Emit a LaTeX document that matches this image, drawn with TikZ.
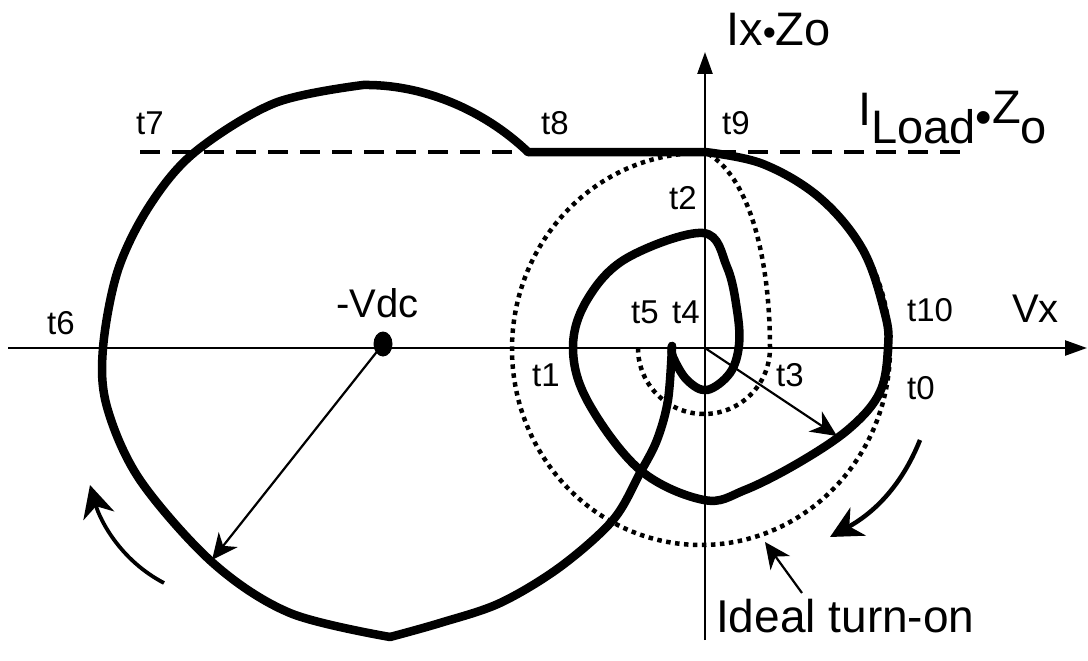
\documentclass[tikz,border=0pt]{standalone}
\usepackage{fontspec}
\setmainfont{Liberation Sans}
\usetikzlibrary{arrows.meta,shapes.geometric}

\begin{document}
\begin{tikzpicture}[
  x=1pt, y=-1pt,
  axisline/.style={line width=2.5pt, -{Triangle[length=22pt,width=15pt]}},
  traj/.style={line width=8.5pt, line join=round, line cap=round},
  idealcirc/.style={line width=4.5pt, dash pattern=on 4.5pt off 4.5pt},
  loadline/.style={line width=3.5pt, dash pattern=on 20pt off 12pt},
  ptr/.style={line width=2.2pt, -{Stealth[length=26pt,width=24pt,inset=8pt]}},
  rotarrow/.style={line width=4.5pt, -{Stealth[length=32pt,width=32pt,inset=10pt]}},
  tlbl/.style={inner sep=0pt, anchor=base west, font=\fontsize{33}{33}\selectfont},
  midlbl/.style={inner sep=0pt, anchor=base west, font=\fontsize{40}{40}\selectfont},
  biglbl/.style={inner sep=0pt, anchor=base west, font=\fontsize{47}{47}\selectfont}
]
\useasboundingbox (0,0) rectangle (1088,661);

% axes
\coordinate (xstart) at (8,348);
\coordinate (xend) at (1087,348);
\coordinate (ystart) at (705,640);
\coordinate (yend) at (705,52);
\coordinate (origin) at (705,348);
\draw[axisline] (xstart) -- (xend);
\draw[axisline] (ystart) -- (yend);

% load current level
\coordinate (loadL) at (140,152);
\coordinate (loadR) at (965,152);
\draw[loadline] (loadL) -- (loadR);

% ideal turn-on circles
\draw[idealcirc] (701,349) ellipse [x radius=189, y radius=196];
\draw[idealcirc] (638,348) arc [start angle=180, end angle=0, radius=66]
  .. controls (770,260) and (750,175) .. (705,152);

% trajectory
\draw[traj] (528,152) -- (705,152)
  plot[smooth, tension=0.6] coordinates {(705,152) (763,164) (820,198) (863,250) (885,314) (888,348) (880,392) (850,428) (800,462) (745,490) (704,500) (640,470) (588,402) (573,348) (587,300) (627,258) (703,233) (727,267) (737,310) (739,345) (730,373) (707,390) (687,380) (673,357) (672,346)};
\draw[traj] plot[smooth, tension=0.55] coordinates {(672,346) (668,400) (657,440) (640,473) (613,520) (560,567) (500,603) (440,623) (390,637)};
\draw[traj] plot[smooth, tension=0.55] coordinates {(390,637) (290,613) (213,563) (140,480) (107,407) (103,348) (118,270) (150,205) (195,152) (275,103) (363,85)}
  .. controls (420,84) and (482,108) .. (528,152);

% -Vdc and radius
\node[fill, ellipse, inner sep=0pt, minimum width=19pt, minimum height=25pt] (vdc) at (383,344) {};
\coordinate (rim) at (212,560);
\draw[ptr] (vdc.center) -- (rim);
\coordinate (spiralpt) at (837,436);
\draw[ptr] (origin) -- (spiralpt);

% rotation arrows
\coordinate (rotRa) at (920,440);
\coordinate (rotRb) at (830,537);
\draw[rotarrow] (rotRa) .. controls (900,490) and (870,515) .. (rotRb);
\coordinate (rotLa) at (164,583);
\coordinate (rotLb) at (90,485);
\draw[rotarrow, line width=3.8pt] (rotLa) .. controls (120,560) and (100,520) .. (rotLb);

% ideal turn-on pointer
\node[biglbl, font=\fontsize{46}{46}\selectfont] (idealtxt) at (716,632) {Ideal turn-on};
\coordinate (idealtail) at (802,593);
\coordinate (idealtip) at (765,542);
\draw[ptr] (idealtail) -- (idealtip);

% labels
\node[biglbl] (ylbl) at (726,46) {Ix\scalebox{0.8}{•}Zo};
\node[midlbl] (xlbl) at (1012,322) {Vx};
\node[midlbl] (vdclbl) at (336,317) {-Vdc};
\node[biglbl] (iloadlbl) at (858,143) {\raisebox{18pt}{I}Load\raisebox{10pt}{•}\raisebox{20pt}{Z}o};
\node[tlbl] (t7) at (136,134) {t7};
\node[tlbl] (t8) at (541,134) {t8};
\node[tlbl] (t9) at (722,134) {t9};
\node[tlbl] (t2) at (669,209) {t2};
\node[tlbl] (t6) at (47,334) {t6};
\node[tlbl] (t5) at (631,323) {t5};
\node[tlbl] (t4) at (672,323) {t4};
\node[tlbl] (t10) at (907,321) {t10};
\node[tlbl] (t1) at (532,386) {t1};
\node[tlbl] (t3) at (776,386) {t3};
\node[tlbl] (t0) at (907,399) {t0};
\end{tikzpicture}
\end{document}
